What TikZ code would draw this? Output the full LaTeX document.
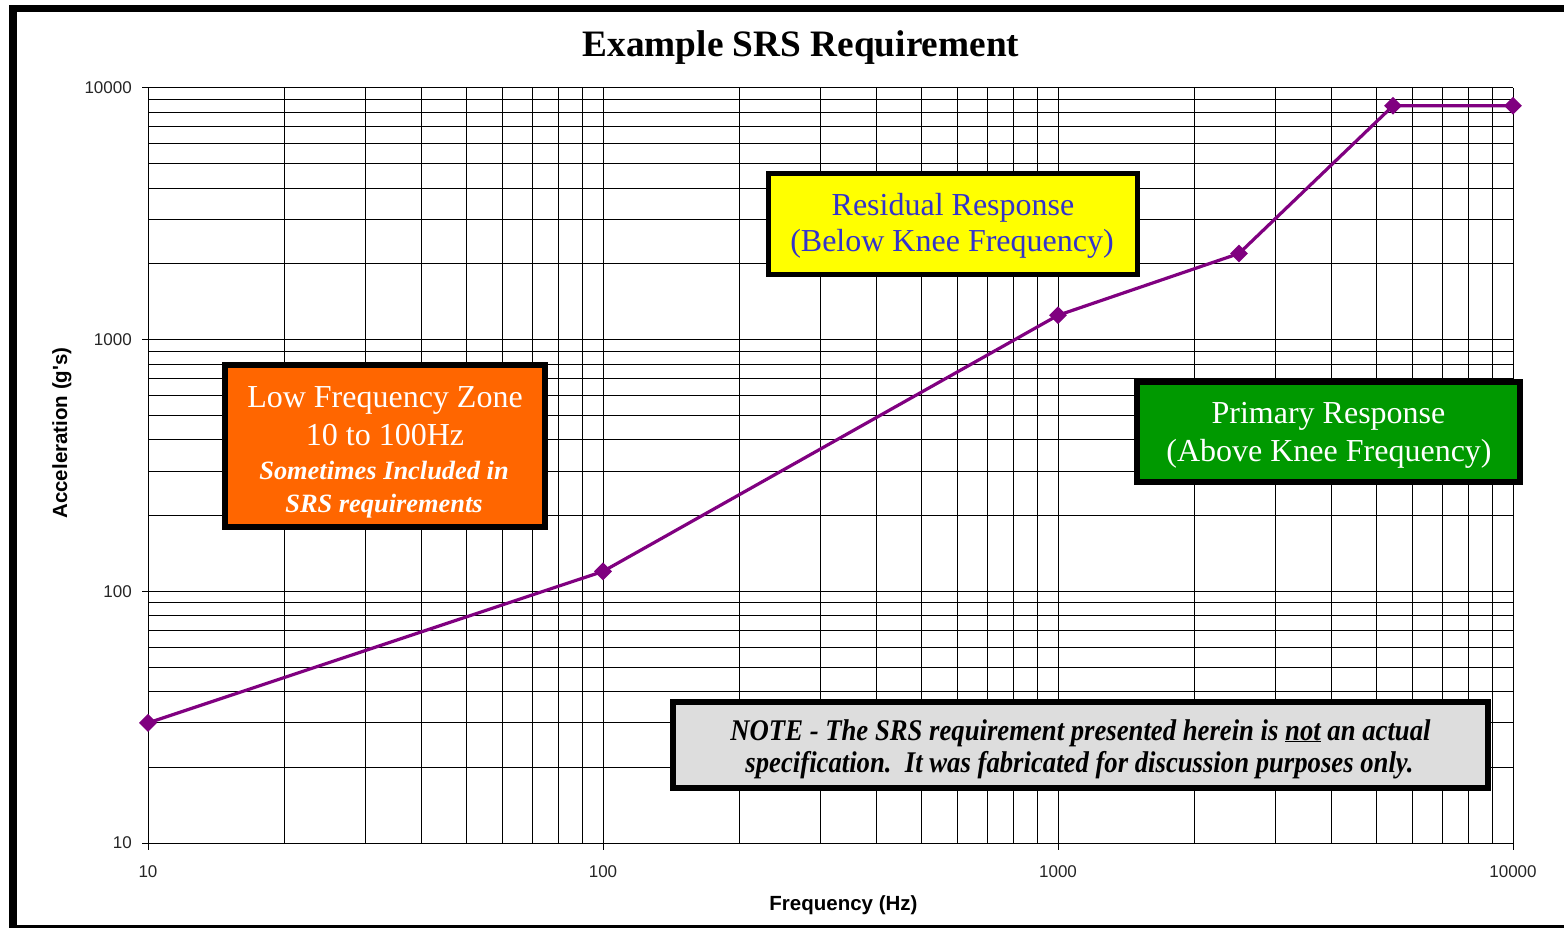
\documentclass[tikz,border=0pt]{standalone}
\usepackage{fontspec}
\setmainfont{Liberation Serif}
\newfontfamily\axisfont{Liberation Sans}
\newfontfamily\condfont[FakeStretch=0.89]{Liberation Serif}
\usetikzlibrary{shapes.geometric}
\definecolor{curvepurple}{RGB}{128,0,128}
\definecolor{boxyellow}{RGB}{255,255,0}
\definecolor{textblue}{RGB}{51,51,204}
\definecolor{boxgreen}{RGB}{0,153,0}
\definecolor{boxorange}{RGB}{255,102,0}
\definecolor{notegray}{RGB}{221,221,221}
\begin{document}
\begin{tikzpicture}[x=1pt,y=-1pt,
  gridline/.style={line width=1pt, black},
  tickline/.style={line width=1pt, black},
  ticklbl/.style={font=\axisfont\fontsize{17}{17}\selectfont, inner sep=0pt, text=black!85},
  axtitle/.style={font=\axisfont\bfseries\fontsize{20.5}{20.5}\selectfont, inner sep=0pt, anchor=base},
  marker/.style={diamond, fill=curvepurple, inner sep=0pt, minimum width=18pt, minimum height=18pt},
  curveline/.style={draw=curvepurple, line width=3.2pt},
  callout/.style={draw=black, inner sep=0pt},
  bigtxt/.style={font=\fontsize{32}{36}\selectfont, inner sep=0pt, anchor=base},
  bitxt/.style={font=\bfseries\itshape\fontsize{26.4}{30}\selectfont, inner sep=0pt, anchor=base},
  notetxt/.style={font=\condfont\bfseries\itshape\fontsize{30}{32}\selectfont, inner sep=0pt, anchor=base},
]
\useasboundingbox (0,0) rectangle (1564,928);
\fill[white] (0,0) rectangle (1564,928);
% frame
\fill[black] (9,5) rectangle (1564,12.5);
\fill[black] (9,5) rectangle (16.5,928);
\fill[black] (9,925) rectangle (1564,928);

% title
\node[font=\bfseries\fontsize{37.3}{40}\selectfont, inner sep=0pt, anchor=base] (title) at (801,56.7) {Example SRS Requirement};

% grid
\foreach \d in {0,1,2}{
  \foreach \m in {1,...,9}{
    \pgfmathsetmacro\gx{148+455*(\d+log10(\m))}
    \pgfmathsetmacro\gy{843-251.67*(\d+log10(\m))}
    \draw[gridline] (\gx,88) -- (\gx,843);
    \draw[gridline] (148,\gy) -- (1513,\gy);
  }
}
\draw[gridline] (1513,88) -- (1513,843);
\draw[gridline] (148,88) -- (1513,88);

% ticks and tick labels
\foreach \d/\lab in {0/10,1/100,2/1000,3/10000}{
  \pgfmathsetmacro\tx{148+455*\d}
  \pgfmathsetmacro\ty{843-251.67*\d}
  \draw[tickline] (\tx,843) -- (\tx,850);
  \draw[tickline] (142,\ty) -- (148,\ty);
  \node[ticklbl, anchor=north] (xl\d) at (\tx,865) {\lab};
  \node[ticklbl, anchor=east] (yl\d) at (132,\ty) {\lab};
}

% axis titles
\node[axtitle] (xtitle) at (843.5,910) {Frequency (Hz)};
\node[axtitle, rotate=90] (ytitle) at (67,433) {Acceleration (g's)};

% curve
\coordinate (c1) at (148,722.9);
\coordinate (c2) at (603,571.4);
\coordinate (c3) at (1058,315.3);
\coordinate (c4) at (1239,253.5);
\coordinate (c5) at (1393,105.8);
\coordinate (c6) at (1513,105.8);
\draw[curveline] (c1) -- (c2) -- (c3) -- (c4) -- (c5) -- (c6);
\foreach \i in {1,...,6}{
  \node[marker] (m\i) at (c\i) {};
}

% residual response box
\node[callout, fill=boxyellow, line width=5pt, minimum width=369pt, minimum height=101pt] (resbox) at (953,224) {};
\node[bigtxt, text=textblue] (res1) at (953,215.5) {Residual Response};
\node[bigtxt, text=textblue] (res2) at (952,251.5) {(Below Knee Frequency)};

% primary response box
\node[callout, fill=boxgreen, line width=6pt, minimum width=383pt, minimum height=100pt] (primbox) at (1328.5,432) {};
\node[bigtxt, text=white] (prim1) at (1328.5,423) {Primary Response};
\node[bigtxt, text=white] (prim2) at (1329,461) {(Above Knee Frequency)};

% low frequency box
\node[callout, fill=boxorange, line width=6pt, minimum width=320pt, minimum height=162pt] (lowbox) at (385,446) {};
\node[bigtxt, text=white] (low1) at (385,407) {Low Frequency Zone};
\node[bigtxt, text=white] (low2) at (385,445) {10 to 100Hz};
\node[bitxt, text=white] (low3) at (384,479) {Sometimes Included in};
\node[bitxt, text=white] (low4) at (384,512) {SRS requirements};

% note box
\node[callout, fill=notegray, line width=6pt, minimum width=815pt, minimum height=86pt] (notebox) at (1080.5,745) {};
\node[notetxt] (note1) at (1080.5,740) {NOTE - The SRS requirement presented herein is \underline{not} an actual};
\node[notetxt] (note2) at (1079.5,772) {specification.\ \ It was fabricated for discussion purposes only.};
\end{tikzpicture}
\end{document}
